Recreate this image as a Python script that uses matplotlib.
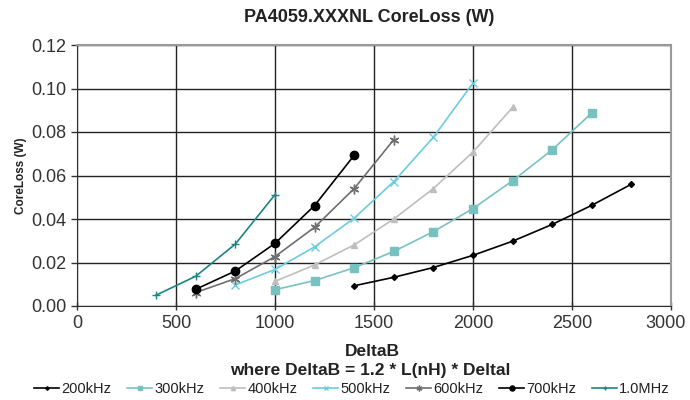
import numpy as np
import matplotlib
matplotlib.use("Agg")
import matplotlib.pyplot as plt
from matplotlib.transforms import ScaledTranslation

plt.rcParams['font.family'] = ['Liberation Sans', 'DejaVu Sans']

# data (DeltaB, CoreLoss W)
x_200k = [1400, 1600, 1800, 2000, 2200, 2400, 2600, 2800]
y_200k = [0.0093, 0.0132, 0.0177, 0.0233, 0.0298, 0.0375, 0.0463, 0.0560]
x_300k = [1000, 1200, 1400, 1600, 1800, 2000, 2200, 2400, 2600]
y_300k = [0.0075, 0.0117, 0.0176, 0.0251, 0.0342, 0.0448, 0.0576, 0.0718, 0.0888]
x_400k = [1000, 1200, 1400, 1600, 1800, 2000, 2200]
y_400k = [0.0113, 0.0189, 0.0281, 0.0400, 0.0540, 0.0708, 0.0913]
x_500k = [800, 1000, 1200, 1400, 1600, 1800, 2000]
y_500k = [0.0097, 0.0168, 0.0272, 0.0404, 0.0572, 0.0776, 0.1025]
x_600k = [600, 800, 1000, 1200, 1400, 1600]
y_600k = [0.0062, 0.0126, 0.0227, 0.0362, 0.0540, 0.0765]
x_700k = [600, 800, 1000, 1200, 1400]
y_700k = [0.0077, 0.0161, 0.0288, 0.0462, 0.0693]
x_1m = [400, 600, 800, 1000]
y_1m = [0.0050, 0.0137, 0.0285, 0.0512]

series = [
    ("200kHz", x_200k, y_200k, "#000000", "D", 3, "#000000"),
    ("300kHz", x_300k, y_300k, "#77C2C1", "s", 6, "#77C2C1"),
    ("400kHz", x_400k, y_400k, "#BEBEBE", "^", 5, "#BEBEBE"),
    ("500kHz", x_500k, y_500k, "#6DCCDD", "x", 6, "#6DCCDD"),
    ("600kHz", x_600k, y_600k, "#6E6E6E", (6, 2, 0), 7, "#6E6E6E"),
    ("700kHz", x_700k, y_700k, "#000000", "o", 6, "#000000"),
    ("1.0MHz", x_1m, y_1m, "#1A8585", "+", 6, "#1A8585"),
]

fig = plt.figure(figsize=(6.9, 4.0), dpi=100)
ax = fig.add_axes([77 / 690, 1 - 306 / 400, 594 / 690, 261 / 400])

for name, xs, ys, col, mk, ms, mc in series:
    ax.plot(xs, ys, color=col, lw=1.2, marker=mk, markersize=ms,
            markerfacecolor=mc, markeredgecolor=mc, markeredgewidth=1.0, label=name)

ax.set_xlim(0, 3000)
ax.set_ylim(0, 0.12)
ax.set_xticks(np.arange(0, 3001, 500))
ax.set_yticks(np.arange(0, 0.121, 0.02))
ax.set_yticklabels([f"{v:.2f}" for v in np.arange(0, 0.121, 0.02)])
ax.tick_params(axis='both', labelsize=13, colors='#333333', length=4, width=1)
ax.tick_params(axis='x', direction='inout', length=6)
ax.tick_params(axis='y', direction='out', length=4)
ax.grid(True, color='#222222', lw=1.0)
ax.set_axisbelow(True)
for s in ['top', 'right']:
    ax.spines[s].set_color('#999999')
    ax.spines[s].set_linewidth(1.5)
for s in ['left', 'bottom']:
    ax.spines[s].set_color('#333333')

# last x label sits a bit left so it stays inside the picture
last = ax.get_xticklabels()[-1]
last.set_transform(last.get_transform() + ScaledTranslation(-5 / 100, 0, fig.dpi_scale_trans))

fig.text(369 / 690, 1 - 18 / 400, "PA4059.XXXNL CoreLoss (W)", fontsize=13, fontweight='bold',
         color='#222222', ha='center', va='center')
ax.set_ylabel("CoreLoss (W)", fontsize=8.5, fontweight='bold', color='#222222', labelpad=3)
fig.text(372 / 690, 1 - 351 / 400, "DeltaB", fontsize=12.5, fontweight='bold',
         color='#222222', ha='center', va='center')
fig.text(370 / 690, 1 - 371 / 400, "where DeltaB = 1.2 * L(nH) * Deltal", fontsize=12.5,
         fontweight='bold', color='#222222', ha='center', va='center')

fig.legend(loc='center', bbox_to_anchor=(352 / 690, 1 - 389 / 400), ncol=7, frameon=False,
           fontsize=10.5, handlelength=1.7, handletextpad=0.15, columnspacing=1.1,
           labelcolor='#222222', markerscale=0.6, borderpad=0)

fig.savefig("out.png", dpi=100)
